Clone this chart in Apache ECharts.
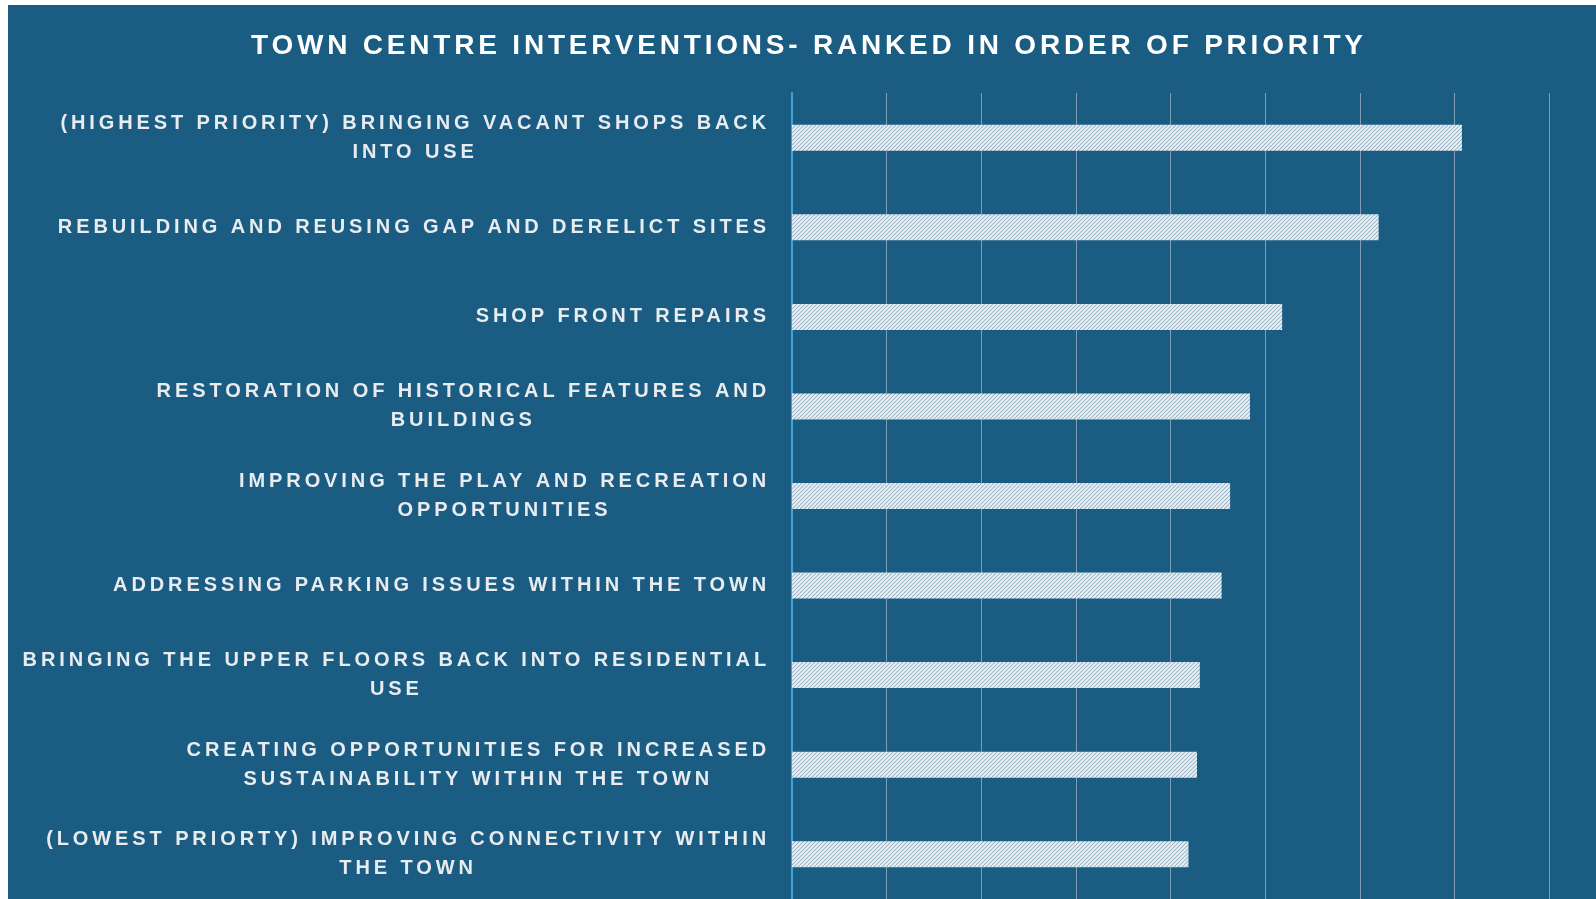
<!DOCTYPE html>
<html>
<head>
<meta charset="utf-8">
<title>Town centre interventions</title>
<script src="https://cdn.jsdelivr.net/npm/echarts@6/dist/echarts.min.js"></script>
<style>
  html, body { margin: 0; padding: 0; background: #ffffff; width: 1596px; height: 899px; overflow: hidden; }
  #chart { position: absolute; left: 8px; top: 5px; width: 1588px; height: 894px; }
</style>
</head>
<body>
<div id="chart"></div>
<script>
// Interventions, highest priority first (multi-line labels use \n)
const categories = [
  '(HIGHEST PRIORITY) BRINGING VACANT SHOPS BACK\nINTO USE',
  'REBUILDING AND REUSING GAP AND DERELICT SITES',
  'SHOP FRONT REPAIRS',
  'RESTORATION OF HISTORICAL FEATURES AND\nBUILDINGS',
  'IMPROVING THE PLAY AND RECREATION\nOPPORTUNITIES',
  'ADDRESSING PARKING ISSUES WITHIN THE TOWN',
  'BRINGING THE UPPER FLOORS BACK INTO RESIDENTIAL\nUSE',
  'CREATING OPPORTUNITIES FOR INCREASED\nSUSTAINABILITY WITHIN THE TOWN',
  '(LOWEST PRIORTY) IMPROVING CONNECTIVITY WITHIN\nTHE TOWN'
];
// Ranking score for each intervention
const scores = [7.08, 6.20, 5.18, 4.84, 4.63, 4.54, 4.31, 4.28, 4.19];
const axisMax = 8;
const axisStep = 1;
const titleText = 'TOWN CENTRE INTERVENTIONS- RANKED IN ORDER OF PRIORITY';

// Tracked (letter-spaced) capitals: same spacing for measuring and drawing
const TITLE_SIZE = 28, LABEL_SIZE = 20;
const TITLE_TRACK = 3.8, LABEL_TRACK = 3.9;
function trackingFor(font) {
  return font.indexOf(TITLE_SIZE + 'px') >= 0 ? TITLE_TRACK : LABEL_TRACK;
}
const measureCtx = document.createElement('canvas').getContext('2d');
echarts.setPlatformAPI({
  measureText(text, font) {
    measureCtx.font = font;
    measureCtx.letterSpacing = trackingFor(measureCtx.font) + 'px';
    return measureCtx.measureText(text);
  }
});
const baseFillText = CanvasRenderingContext2D.prototype.fillText;
CanvasRenderingContext2D.prototype.fillText = function (t, x, y, w) {
  this.letterSpacing = trackingFor(this.font) + 'px';
  return w === undefined ? baseFillText.call(this, t, x, y) : baseFillText.call(this, t, x, y, w);
};

// Diagonal hatch fill for the bars
function hatchTile() {
  const s = 4;
  const c = document.createElement('canvas');
  c.width = s; c.height = s;
  const g = c.getContext('2d');
  g.fillStyle = '#eef2f4';
  g.fillRect(0, 0, s, s);
  g.strokeStyle = '#98b4c7';
  g.lineWidth = 1.1;
  g.beginPath();
  for (let k = -1; k <= 1; k++) {
    g.moveTo(k * s, s);
    g.lineTo(k * s + s, 0);
  }
  g.stroke();
  return c;
}

const FONT = '"Liberation Sans", Arial, sans-serif';
const chart = echarts.init(document.getElementById('chart'), null, { renderer: 'canvas' });
chart.setOption({
  backgroundColor: '#1a5c82',
  animation: false,
  title: {
    text: titleText,
    left: 243,
    top: 25,
    padding: 0,
    textStyle: { color: '#ffffff', fontSize: TITLE_SIZE, fontWeight: 'bold', fontFamily: FONT }
  },
  grid: { left: 784, right: 47, top: 88, bottom: 0, containLabel: false },
  xAxis: {
    type: 'value',
    min: 0,
    max: axisMax,
    interval: axisStep,
    axisLabel: { show: false },
    axisTick: { show: false },
    axisLine: { show: false },
    splitLine: { show: true, lineStyle: { color: '#7f9db4', width: 1 } }
  },
  yAxis: {
    type: 'category',
    inverse: true,
    data: categories,
    axisTick: { show: false },
    axisLine: { show: true, lineStyle: { color: '#3ea2dc', width: 2 } },
    axisLabel: {
      margin: 22,
      align: 'right',
      color: '#e8ecef',
      fontSize: LABEL_SIZE,
      fontFamily: FONT,
      fontWeight: 'bold',
      lineHeight: 29,
      formatter: v => v.split('\n').map(l => '{c|' + l + '}').join('\n'),
      rich: {
        c: { align: 'center', color: '#e8ecef', fontSize: LABEL_SIZE, fontFamily: FONT, fontWeight: 'bold', lineHeight: 29 }
      }
    }
  },
  series: [{
    type: 'bar',
    data: scores,
    barWidth: 26,
    itemStyle: { color: { image: hatchTile(), repeat: 'repeat' } },
    z: 3
  }]
});
</script>
</body>
</html>
